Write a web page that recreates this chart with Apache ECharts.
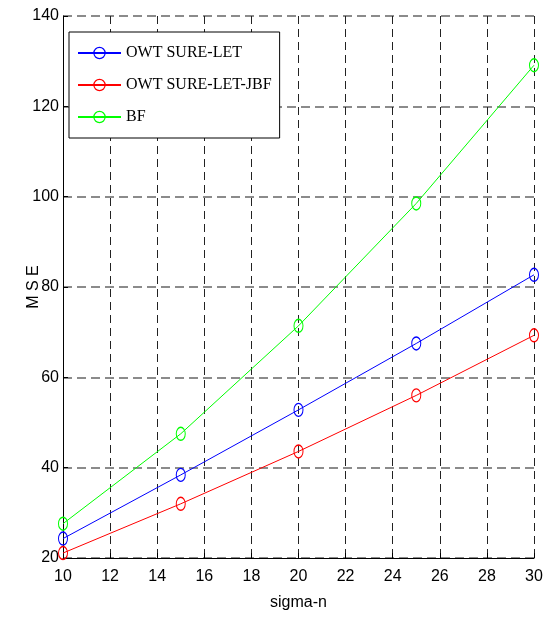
<!DOCTYPE html>
<html>
<head>
<meta charset="utf-8">
<script src="https://cdn.jsdelivr.net/npm/echarts@6/dist/echarts.min.js"></script>
<style>
  html, body { margin: 0; padding: 0; background: #fff; }
  #chart { width: 550px; height: 619px; }
</style>
</head>
<body>
<div id="chart"></div>
<script>
// Noise level (sigma-n) on the x axis
const sigmaN = [10, 15, 20, 25, 30];

// Mean squared error for each denoising method
const owtSureLet = [24.3, 38.4, 52.8, 67.5, 82.7];
const owtSureLetJbf = [21.1, 32.0, 43.6, 56.0, 69.3];
const bf = [27.6, 47.5, 71.4, 98.5, 129.1];

const seriesNames = ['OWT SURE-LET', 'OWT SURE-LET-JBF', 'BF'];
const seriesColors = ['#0000ff', '#ff0000', '#00ff00'];
const seriesValues = [owtSureLet, owtSureLetJbf, bf];

const sansFamily = '"Liberation Sans", Arial, sans-serif';
const tickFont = { fontFamily: sansFamily, fontSize: 16, color: '#000' };

const chart = echarts.init(document.getElementById('chart'), null, { renderer: 'canvas' });

const series = seriesNames.map((name, i) => ({
  name: name,
  type: 'line',
  data: sigmaN.map((x, k) => [x, seriesValues[i][k]]),
  symbol: 'circle',
  symbolSize: [9, 13],
  showSymbol: true,
  lineStyle: { color: seriesColors[i], width: 1 },
  itemStyle: { color: 'rgba(0,0,0,0)', borderColor: seriesColors[i], borderWidth: 1.2 },
  emphasis: { disabled: true },
  animation: false,
  z: 3
}));

chart.setOption({
  animation: false,
  backgroundColor: '#fff',
  grid: { left: 63, right: 16, top: 16, bottom: 61, containLabel: false },
  legend: {
    orient: 'vertical',
    left: 69,
    top: 32,
    padding: [13, 8, 13, 8],
    itemGap: 16,
    itemWidth: 43,
    itemHeight: 14,
    backgroundColor: '#fff',
    borderColor: '#000',
    borderWidth: 1,
    borderRadius: 0,
    data: seriesNames.map((n, i) => ({
      name: n,
      itemStyle: { color: 'rgba(0,0,0,0)', borderColor: seriesColors[i], borderWidth: 1.2 }
    })),
    textStyle: {
      fontFamily: '"Liberation Serif", "Times New Roman", serif',
      fontSize: 16,
      color: '#000'
    },
    selectedMode: false,
    z: 10
  },
  xAxis: {
    type: 'value',
    min: 10,
    max: 30,
    interval: 2,
    name: 'sigma-n',
    nameLocation: 'middle',
    nameGap: 37,
    nameMoveOverlap: false,
    nameTextStyle: { fontFamily: sansFamily, fontSize: 16, color: '#000' },
    axisLine: { show: true, onZero: false, lineStyle: { color: '#000', width: 1 } },
    axisTick: { show: true, inside: true, length: 5, lineStyle: { color: '#000' } },
    axisLabel: Object.assign({ margin: 11 }, tickFont),
    splitLine: { show: true, lineStyle: { color: '#222', type: [8, 5], width: 1 } }
  },
  yAxis: {
    type: 'value',
    min: 20,
    max: 140,
    interval: 20,
    name: 'M S E',
    nameLocation: 'middle',
    nameGap: 21,
    nameMoveOverlap: false,
    nameRotate: 90,
    nameTextStyle: { fontFamily: sansFamily, fontSize: 16, color: '#000' },
    axisLine: { show: true, onZero: false, lineStyle: { color: '#000', width: 1 } },
    axisTick: { show: true, inside: true, length: 5, lineStyle: { color: '#000' } },
    axisLabel: Object.assign({ margin: 4 }, tickFont),
    splitLine: { show: true, lineStyle: { color: '#666', type: [9, 5], width: 1.5 } }
  },
  series: series
});
</script>
</body>
</html>
